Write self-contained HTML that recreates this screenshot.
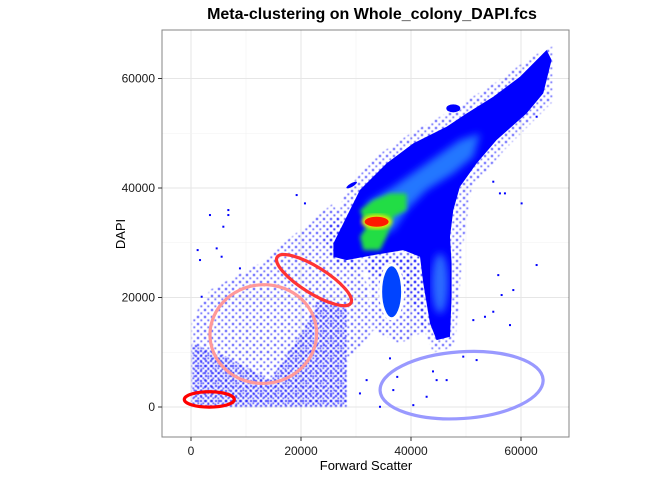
<!DOCTYPE html>
<html><head><meta charset="utf-8"><style>
html,body{margin:0;padding:0;background:#fff}
svg{display:block;font-family:"Liberation Sans",Arial,sans-serif}
</style></head><body>
<svg id="chart" width="672" height="480" viewBox="0 0 672 480">
<defs>
<pattern id="dotsMed" width="7" height="7" patternUnits="userSpaceOnUse"><rect x="1" y="1" width="2" height="2" fill="#0000ff"/><rect x="4.5" y="4.5" width="1.6" height="1.6" fill="#0000ff"/></pattern>
<pattern id="dotsDense" width="5" height="5" patternUnits="userSpaceOnUse"><rect x="0" y="0" width="2" height="2" fill="#0000ff"/><rect x="2.5" y="2.5" width="1.6" height="1.6" fill="#0000ff"/></pattern>
<filter id="blur2"><feGaussianBlur stdDeviation="2"/></filter>
<filter id="blur4"><feGaussianBlur stdDeviation="4"/></filter>
<filter id="soft"><feGaussianBlur stdDeviation="0.6"/></filter>
<clipPath id="panelClip"><rect x="162" y="30" width="407" height="407"/></clipPath>
</defs>
<text x="372" y="19" text-anchor="middle" font-size="16" font-weight="bold" fill="#000">Meta-clustering on Whole_colony_DAPI.fcs</text>
<rect x="162" y="30" width="407" height="407" fill="#fff"/>
<g id="grid" clip-path="url(#panelClip)"></g>
<g id="marks" clip-path="url(#panelClip)"></g>
<rect x="162" y="30" width="407" height="407" fill="none" stroke="#333" stroke-width="1" opacity="0.6"/>
<g id="axes"></g>
<text x="366" y="470" text-anchor="middle" font-size="13">Forward Scatter</text>
<text transform="translate(125,234) rotate(-90)" text-anchor="middle" font-size="13">DAPI</text>
</svg>
<script>
const xTicks=[0,20000,40000,60000];
const yTicks=[0,20000,40000,60000];
const xTickLabels=["0","20000","40000","60000"];
const yTickLabels=["0","20000","40000","60000"];
const bandX=[25900,28300,30700,35570,40420,46480,50120,54960,59810,64660,65570,64050,61020,55570,51930,48900,47690,47090,47390,47390,47090,44660,43450,42240,41630,38600,33150,28300,25900];
const bandY=[29880,34760,39630,44500,48150,51200,53630,56680,60330,65200,63380,57290,53630,48760,44500,40240,35970,31100,26230,20140,12830,12220,15270,22580,27450,28660,27750,26840,27450];
const coreX=[31930,36780,42840,48900,52540,51330,47690,42840,39200,36780,33150];
const coreY=[37190,40240,44500,48760,49980,45720,42670,39630,35970,32320,31100];
const greenX=[30720,33150,36180,39200,39200,36780,35570,34360,31330,30720,31930];
const greenY=[35970,37800,39020,39020,35970,34750,31100,28660,28660,31100,32930];
const sparseX=[120,3450,12550,19820,25880,28300,31930,33150,28300,28300,120];
const sparseY=[15870,21360,26230,32320,37190,29880,22580,14050,7960,40,40];
const denseLowX=[120,6480,14360,20420,23450,28300,28300,120];
const denseLowY=[11610,9180,4910,14050,20140,18310,40,40];
const midX=[31930,41630,42840,38000,33150];
const midY=[27450,27450,14050,11610,14050];
const haloX=[24000,29000,34000,40000,47000,55000,62000,66000,66000,57000,51000,49500,48000,44000,40000,34000,26000];
const haloY=[31000,40500,46000,50000,54000,59000,64000,66000,56000,47000,40000,30000,11000,10000,20000,24000,26000];
const ptsX=[3450,6790,6790,5880,1210,4670,1640,5570,8900,1940,60110,62840,55870,58600,56480,54960,53450,51330,58000,51930,46480,44660,42840,40420,36780,36180,31930,30720,34360,56170,57080,54960,62840,19210,20720,44000,49500,37500];
const ptsY=[35060,35970,35060,32930,28660,28970,26840,27450,25320,20140,37190,25930,24090,21360,20450,17400,16480,15870,14960,8570,4910,4910,1870,340,3090,8880,4910,2480,40,39020,39020,41150,53020,38710,37190,6500,9200,5500];
const ellCX=[3330,13150,22360,49200];
const ellCY=[1380,13320,23180,3990];
const ellRX=[4545,9700,7900,14850];
const ellRY=[1400,9010,2400,6090];
const ellRot=[0,-5,32,-4];
const ellColor=["#ff0000","#ff9999","#ff3333","#9999ff"];
const blobCX=[33750,47690,29210,45270,36480];
const blobCY=[33840,54550,40540,22570,21050];

const X=v=>191+v*0.0055;
const Y=v=>407-v*0.005475;
const NS="http://www.w3.org/2000/svg";
function mk(tag,attrs,parent){const e=document.createElementNS(NS,tag);for(const k in attrs)e.setAttribute(k,attrs[k]);parent.appendChild(e);return e;}
const grid=document.getElementById('grid'),marks=document.getElementById('marks'),axes=document.getElementById('axes');
for(let i=0;i<xTicks.length;i++){
 const l=mk('line',{x1:X(xTicks[i]),x2:X(xTicks[i]),y1:30,y2:437,stroke:'#e6e6e6','stroke-width':1.1},grid);
 
 
 const m=mk('line',{x1:X(xTicks[i]+10000),x2:X(xTicks[i]+10000),y1:30,y2:437,stroke:'#f2f2f2','stroke-width':0.6},grid);
 
 
 const t=mk('line',{x1:X(xTicks[i]),x2:X(xTicks[i]),y1:437,y2:441,stroke:'#333'},axes);
 
 
 const tx=mk('text',{x:X(xTicks[i]),y:455,'text-anchor':'middle','font-size':12,fill:'#1a1a1a'},axes);
 tx.textContent=xTickLabels[i];
 
 
}
for(let i=0;i<yTicks.length;i++){
 const l=mk('line',{x1:162,x2:569,y1:Y(yTicks[i]),y2:Y(yTicks[i]),stroke:'#e6e6e6','stroke-width':1.1},grid);
 
 
 const m=mk('line',{x1:162,x2:569,y1:Y(yTicks[i]+10000),y2:Y(yTicks[i]+10000),stroke:'#f2f2f2','stroke-width':0.6},grid);
 
 
 const t=mk('line',{x1:158,x2:162,y1:Y(yTicks[i]),y2:Y(yTicks[i]),stroke:'#333'},axes);
 
 
 const tx=mk('text',{x:155,y:Y(yTicks[i])+4,'text-anchor':'end','font-size':12,fill:'#1a1a1a'},axes);
 tx.textContent=yTickLabels[i];
 
 
}
const pts=(xs,ys)=>xs.map((v,i)=>X(v).toFixed(1)+','+Y(ys[i]).toFixed(1)).join(' ');
let p;
p=mk('polygon',{points:pts(haloX,haloY),fill:'url(#dotsMed)',opacity:0.75,filter:'url(#soft)'},marks);


p=mk('polygon',{points:pts(sparseX,sparseY),fill:'url(#dotsMed)',opacity:0.8,filter:'url(#soft)'},marks);


p=mk('polygon',{points:pts(denseLowX,denseLowY),fill:'url(#dotsDense)',opacity:0.85,filter:'url(#soft)'},marks);


p=mk('polygon',{points:pts(midX,midY),fill:'url(#dotsMed)',opacity:0.85,filter:'url(#soft)'},marks);


p=mk('polygon',{points:pts(bandX,bandY),fill:'#0000ff'},marks);


p=mk('polygon',{points:pts(coreX,coreY),fill:'#2a8cff',filter:'url(#blur4)',opacity:0.85},marks);


p=mk('ellipse',{cx:X(blobCX[3]),cy:Y(blobCY[3]),rx:1500*0.0055,ry:5480*0.005475,fill:'#2a6cff',filter:'url(#blur4)'},marks);


p=mk('polygon',{points:pts(greenX,greenY),fill:'#22dd44',filter:'url(#blur2)'},marks);


p=mk('ellipse',{cx:X(blobCX[0]),cy:Y(blobCY[0]),rx:15,ry:7,fill:'#ffee00',filter:'url(#blur2)'},marks);


p=mk('ellipse',{cx:X(blobCX[0]),cy:Y(blobCY[0]),rx:12,ry:5,fill:'#ff1a00'},marks);


p=mk('ellipse',{cx:X(blobCX[1]),cy:Y(blobCY[1]),rx:7,ry:4,fill:'#0000ff'},marks);


p=mk('ellipse',{cx:X(blobCX[2]),cy:Y(blobCY[2]),rx:6,ry:1.8,fill:'#0000ff',transform:'rotate(-30 '+X(blobCX[2])+' '+Y(blobCY[2])+')'},marks);


p=mk('ellipse',{cx:X(blobCX[4]),cy:Y(blobCY[4]),rx:11,ry:27,fill:'#0044ff',stroke:'#fff','stroke-width':3},marks);


for(let i=0;i<ptsX.length;i++){
 const c=mk('rect',{x:X(ptsX[i])-1,y:Y(ptsY[i])-1,width:2,height:2,fill:'#0000ff'},marks);
 
 
}
for(let i=0;i<ellCX.length;i++){
 const cx=X(ellCX[i]),cy=Y(ellCY[i]);
 const e=mk('ellipse',{cx:cx,cy:cy,rx:ellRX[i]*0.0055,ry:ellRY[i]*0.005475,fill:'none',stroke:ellColor[i],'stroke-width':3.2,transform:'rotate('+ellRot[i]+' '+cx+' '+cy+')'},marks);
 
 
}
</script>
</body></html>
